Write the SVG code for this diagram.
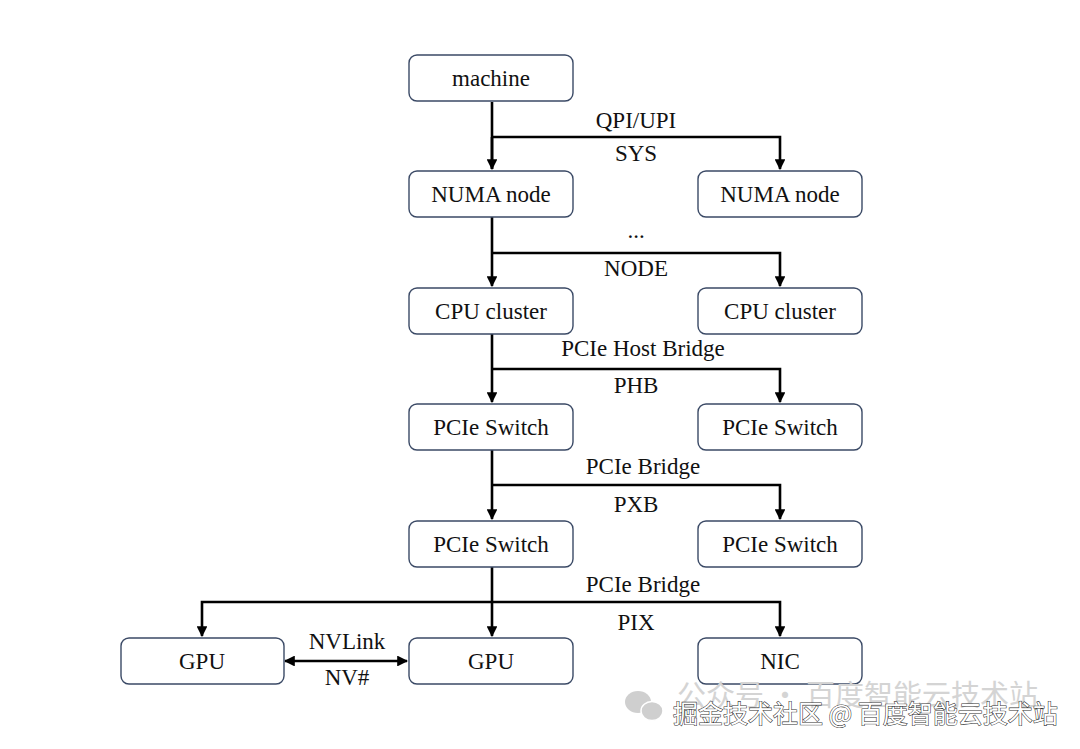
<svg xmlns="http://www.w3.org/2000/svg" width="1080" height="749" viewBox="0 0 1080 749">
<defs>
<style>
.box{fill:#fff;stroke:#3b4a66;stroke-width:1.4}
.t{font-family:"Liberation Serif","Times New Roman",serif;font-size:23px;fill:#111;text-anchor:middle}
.ln{fill:none;stroke:#000;stroke-width:2.6}
.wm1{font-family:"Noto Sans CJK SC",sans-serif;font-size:29px;fill:#d4d4d4}
.wm2{font-family:"Noto Sans CJK SC",sans-serif;font-size:25px;fill:#fff;stroke:#333;stroke-width:1.1;paint-order:stroke}
</style>
<marker id="ah" viewBox="0 0 10 10" refX="9" refY="5" markerWidth="4.2" markerHeight="4.2" orient="auto-start-reverse" markerUnits="strokeWidth">
<path d="M0,0 L10,5 L0,10 z" fill="#000"/>
</marker>
</defs>
<rect width="1080" height="749" fill="#fff"/>

<g id="connectors">
<path class="ln" d="M492,102 V169"/>
<path class="ln" d="M492,137 H780 V169" marker-end="url(#ah)"/>
<path class="ln" d="M492,137 V169" marker-end="url(#ah)"/>
<path class="ln" d="M492,217 V286" marker-end="url(#ah)"/>
<path class="ln" d="M492,253 H780 V286" marker-end="url(#ah)"/>
<path class="ln" d="M492,334 V402" marker-end="url(#ah)"/>
<path class="ln" d="M492,369 H780 V402" marker-end="url(#ah)"/>
<path class="ln" d="M492,450 V519" marker-end="url(#ah)"/>
<path class="ln" d="M492,485 H780 V519" marker-end="url(#ah)"/>
<path class="ln" d="M492,567 V636" marker-end="url(#ah)"/>
<path class="ln" d="M202,636 V602 H780 V636" marker-end="url(#ah)" marker-start="url(#ah)"/>
<path class="ln" d="M285,661 H407" marker-end="url(#ah)" marker-start="url(#ah)"/>
<text class="t" x="636" y="128">QPI/UPI</text>
<text class="t" x="636" y="161">SYS</text>
<text class="t" x="636" y="238">...</text>
<text class="t" x="636" y="276">NODE</text>
<text class="t" x="643" y="356">PCIe Host Bridge</text>
<text class="t" x="636" y="393">PHB</text>
<text class="t" x="643" y="474">PCIe Bridge</text>
<text class="t" x="636" y="512">PXB</text>
<text class="t" x="643" y="592">PCIe Bridge</text>
<text class="t" x="636" y="630">PIX</text>
<text class="t" x="347" y="649">NVLink</text>
<text class="t" x="347" y="685">NV#</text>
</g>

<g id="machine"><rect class="box" x="409" y="55" width="164" height="46" rx="8"/><text class="t" x="491" y="86">machine</text></g>
<g id="numa1"><rect class="box" x="409" y="171" width="164" height="46" rx="8"/><text class="t" x="491" y="202">NUMA node</text></g>
<g id="numa2"><rect class="box" x="698" y="171" width="164" height="46" rx="8"/><text class="t" x="780" y="202">NUMA node</text></g>
<g id="cpu1"><rect class="box" x="409" y="288" width="164" height="46" rx="8"/><text class="t" x="491" y="319">CPU cluster</text></g>
<g id="cpu2"><rect class="box" x="698" y="288" width="164" height="46" rx="8"/><text class="t" x="780" y="319">CPU cluster</text></g>
<g id="sw1"><rect class="box" x="409" y="404" width="164" height="46" rx="8"/><text class="t" x="491" y="435">PCIe Switch</text></g>
<g id="sw2"><rect class="box" x="698" y="404" width="164" height="46" rx="8"/><text class="t" x="780" y="435">PCIe Switch</text></g>
<g id="sw3"><rect class="box" x="409" y="521" width="164" height="46" rx="8"/><text class="t" x="491" y="552">PCIe Switch</text></g>
<g id="sw4"><rect class="box" x="698" y="521" width="164" height="46" rx="8"/><text class="t" x="780" y="552">PCIe Switch</text></g>
<g id="gpu1"><rect class="box" x="121" y="638" width="163" height="46" rx="8"/><text class="t" x="202" y="669">GPU</text></g>
<g id="gpu2"><rect class="box" x="409" y="638" width="164" height="46" rx="8"/><text class="t" x="491" y="669">GPU</text></g>
<g id="nic"><rect class="box" x="698" y="638" width="164" height="46" rx="8"/><text class="t" x="780" y="669">NIC</text></g>

<g id="watermark">
<ellipse cx="638" cy="702" rx="13" ry="11" fill="#cfcfcf"/>
<ellipse cx="652" cy="711" rx="11" ry="9.5" fill="#cfcfcf" stroke="#fff" stroke-width="1.5"/>
<text class="wm1" x="677" y="706">公众号 · 百度智能云技术站</text>
<text class="wm2" x="673" y="723">掘金技术社区 @ 百度智能云技术站</text>
</g>
</svg>
